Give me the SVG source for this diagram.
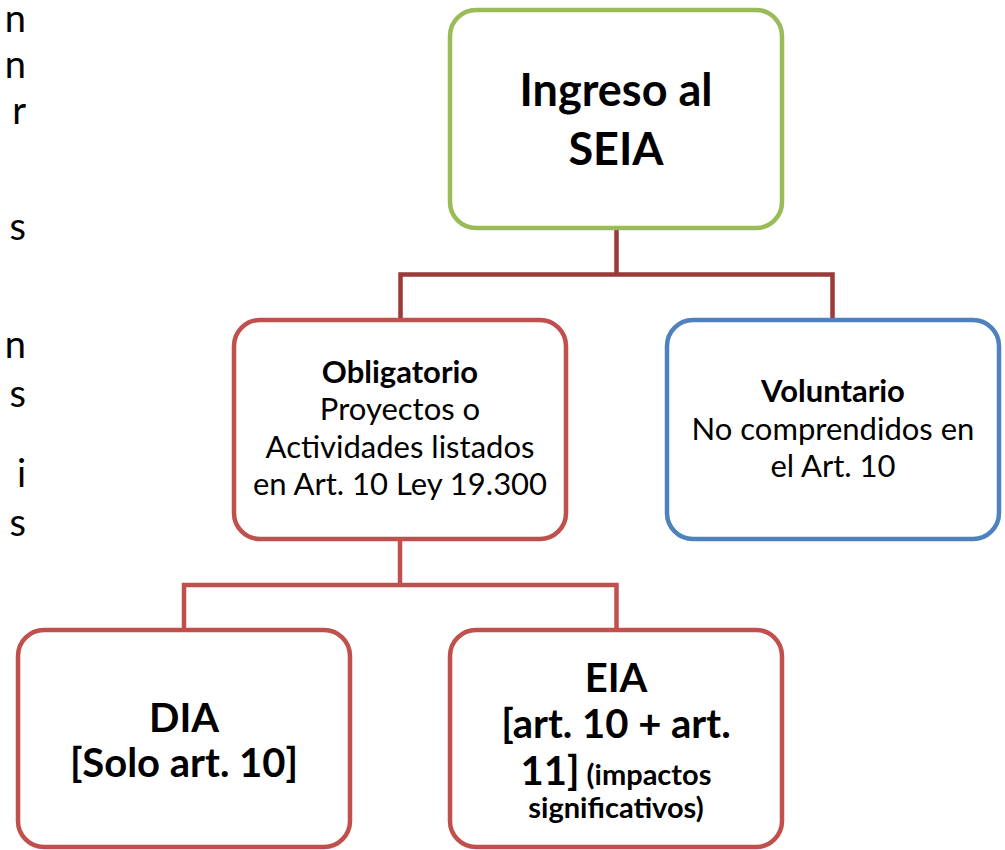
<svg xmlns="http://www.w3.org/2000/svg" width="1005" height="850" viewBox="0 0 1005 850">
<style>
text{font-family:Lato,"Liberation Sans","DejaVu Sans",sans-serif;fill:#000}
.c{text-anchor:middle}
.b{font-weight:bold}
.box{fill:#fff;stroke-width:4.5}
.g{stroke:#9BBB59}
.r{stroke:#C0504D}
.bl{stroke:#4F81BD}
.side{font-size:38px;text-anchor:end}
.m{font-size:31px}
.L{font-size:40px}
.s{font-size:29px}
</style>
<rect width="1005" height="850" fill="#fff"/>
<g id="side-text">
<text class="side" x="26" y="32">n</text>
<text class="side" x="26" y="78">n</text>
<text class="side" x="26" y="124">r</text>
<text class="side" x="26" y="240">s</text>
<text class="side" x="26" y="358">n</text>
<text class="side" x="26" y="407">s</text>
<text class="side" x="26" y="487">i</text>
<text class="side" x="26" y="536">s</text>
</g>
<g id="connectors" fill="none" stroke-width="4.5" stroke-linejoin="miter">
<path d="M616.5 229 V274.5 M400.5 318 V274.5 H832.5 V318" stroke="#9B3B39"/>
<path d="M400 540 V585 M184 629 V585 H616.5 V629" stroke="#C0504D"/>
</g>
<g id="ingreso">
<rect class="box g" x="450" y="10" width="332" height="218" rx="26"/>
<text class="c b" x="616" y="106" font-size="45">Ingreso al</text>
<text class="c b" x="616" y="165" font-size="45">SEIA</text>
</g>
<g id="obligatorio">
<rect class="box r" x="234" y="320" width="332" height="219" rx="26"/>
<text class="c b m" x="400" y="383">Obligatorio</text>
<text class="c m" x="400" y="420">Proyectos o</text>
<text class="c m" x="400" y="458">Actividades listados</text>
<text class="c m" x="400" y="495">en Art. 10 Ley 19.300</text>
</g>
<g id="voluntario">
<rect class="box bl" x="667" y="320" width="332" height="219" rx="26"/>
<text class="c b m" x="833" y="402">Voluntario</text>
<text class="c m" x="833" y="440">No comprendidos en</text>
<text class="c m" x="833" y="477">el Art. 10</text>
</g>
<g id="dia">
<rect class="box r" x="18" y="630" width="332" height="217" rx="26"/>
<text class="c b L" x="184" y="732">DIA</text>
<text class="c b L" x="184" y="777">[Solo art. 10]</text>
</g>
<g id="eia">
<rect class="box r" x="450" y="630" width="332" height="217" rx="26"/>
<text class="c b L" x="616" y="692">EIA</text>
<text class="c b L" x="616" y="738">[art. 10 + art.</text>
<text class="c b L" x="616" y="785">11]<tspan class="s"> (impactos</tspan></text>
<text class="c b s" x="616" y="818">significativos)</text>
</g>
</svg>
